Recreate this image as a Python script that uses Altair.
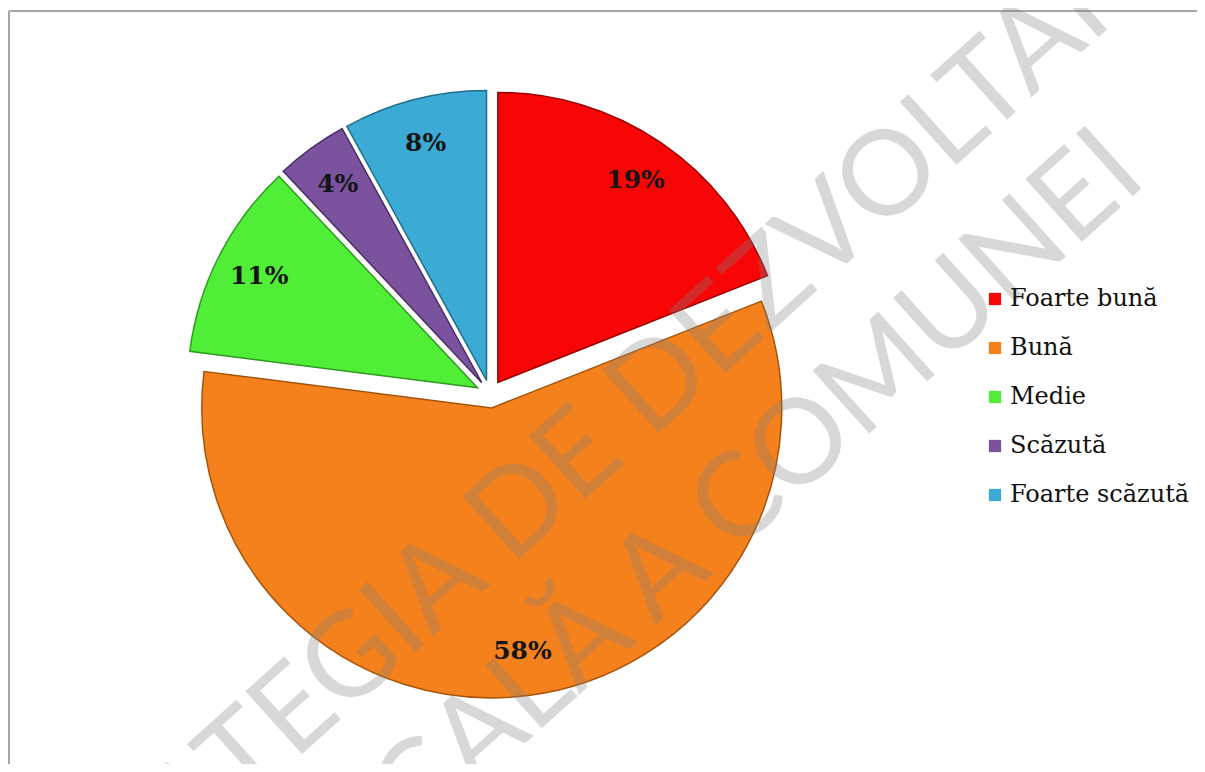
import altair as alt
import pandas as pd

# ---- data ----
categories = ["Foarte bună", "Bună", "Medie", "Scăzută", "Foarte scăzută"]
values = [19, 58, 11, 4, 8]
labels = ["19%", "58%", "11%", "4%", "8%"]
fill_colors = ["#F80606", "#F5811C", "#50EE36", "#7B529E", "#3BAAD4"]
edge_colors = ["#9A0000", "#A5540C", "#2F9A22", "#4A2F66", "#1F6F8C"]
watermark_lines = ["STRATEGIA DE DEZVOLTARE", "LOCALĂ A COMUNEI"]

# ---- layout constants (pixels inside the view) ----
W, H = 1189, 756
CX, CY = 482, 386
R = 290
EXPLODE = 14
LABEL_R = 245

df = pd.DataFrame({
    "cat": categories,
    "value": values,
    "label": labels,
    "order": list(range(len(categories))),
})

base = (
    alt.Chart(df)
    .transform_window(cum="sum(value)", sort=[alt.SortField("order")], frame=[None, 0])
    .transform_joinaggregate(total="sum(value)")
    .transform_calculate(
        t1="2*PI*(datum.cum-datum.value)/datum.total",
        t2="2*PI*datum.cum/datum.total",
    )
    .transform_calculate(mid="(datum.t1+datum.t2)/2")
    .transform_calculate(
        cx=f"{CX}+{EXPLODE}*sin(datum.mid)",
        cy=f"{CY}-{EXPLODE}*cos(datum.mid)",
    )
    .transform_calculate(
        lx=f"datum.cx+{LABEL_R}*sin(datum.mid)",
        ly=f"datum.cy-{LABEL_R}*cos(datum.mid)",
    )
)

pie = base.mark_arc(radius=R, strokeWidth=1.5).encode(
    theta=alt.Theta("t1:Q", scale=None, stack=False),
    theta2="t2:Q",
    x=alt.X("cx:Q", scale=None),
    y=alt.Y("cy:Q", scale=None),
    color=alt.Color(
        "cat:N",
        sort=categories,
        scale=alt.Scale(domain=categories, range=fill_colors),
        legend=alt.Legend(
            title=None,
            orient="none",
            legendX=975,
            legendY=279,
            symbolType="square",
            symbolSize=150,
            symbolStrokeWidth=0,
            labelFont="DejaVu Serif",
            labelFontSize=24,
            labelColor="#111111",
            labelOffset=3,
            labelLimit=400,
            rowPadding=25,
            padding=0,
        ),
    ),
    stroke=alt.Stroke(
        "cat:N",
        scale=alt.Scale(domain=categories, range=edge_colors),
        legend=None,
    ),
)

text = base.mark_text(
    font="DejaVu Serif",
    fontSize=25,
    fontWeight="bold",
    color="#151515",
    align="center",
    baseline="middle",
).encode(
    x=alt.X("lx:Q", scale=None),
    y=alt.Y("ly:Q", scale=None),
    text="label:N",
)

wm_df = pd.DataFrame({"t": [watermark_lines[0]]})
wm_df2 = pd.DataFrame({"t": [watermark_lines[1]]})
wm_style = dict(font="Lato", fontWeight="normal", fontSize=118, angle=318, align="center",
                baseline="middle", color="#7f7f7f", opacity=0.3)
wm1 = alt.Chart(wm_df).mark_text(**wm_style).encode(
    x=alt.value(584), y=alt.value(438), text="t:N")
wm2 = alt.Chart(wm_df2).mark_text(**wm_style).encode(
    x=alt.value(695), y=alt.value(528), text="t:N")

frame_df = pd.DataFrame({"a": [0]})
frame_left = alt.Chart(frame_df).mark_rule(color="#a6a6a6", strokeWidth=2).encode(
    x=alt.value(1), y=alt.value(3), y2=alt.value(H))
frame_top = alt.Chart(frame_df).mark_rule(color="#a6a6a6", strokeWidth=2).encode(
    x=alt.value(1), x2=alt.value(W), y=alt.value(3))

chart = (
    alt.layer(frame_left, frame_top, pie, text, wm1, wm2)
    .properties(width=W, height=H, autosize=alt.AutoSizeParams(type="none"), padding=0)
    .configure_view(strokeWidth=0)
)

chart.save("out.html", embed_options={"renderer": "svg", "actions": False})
